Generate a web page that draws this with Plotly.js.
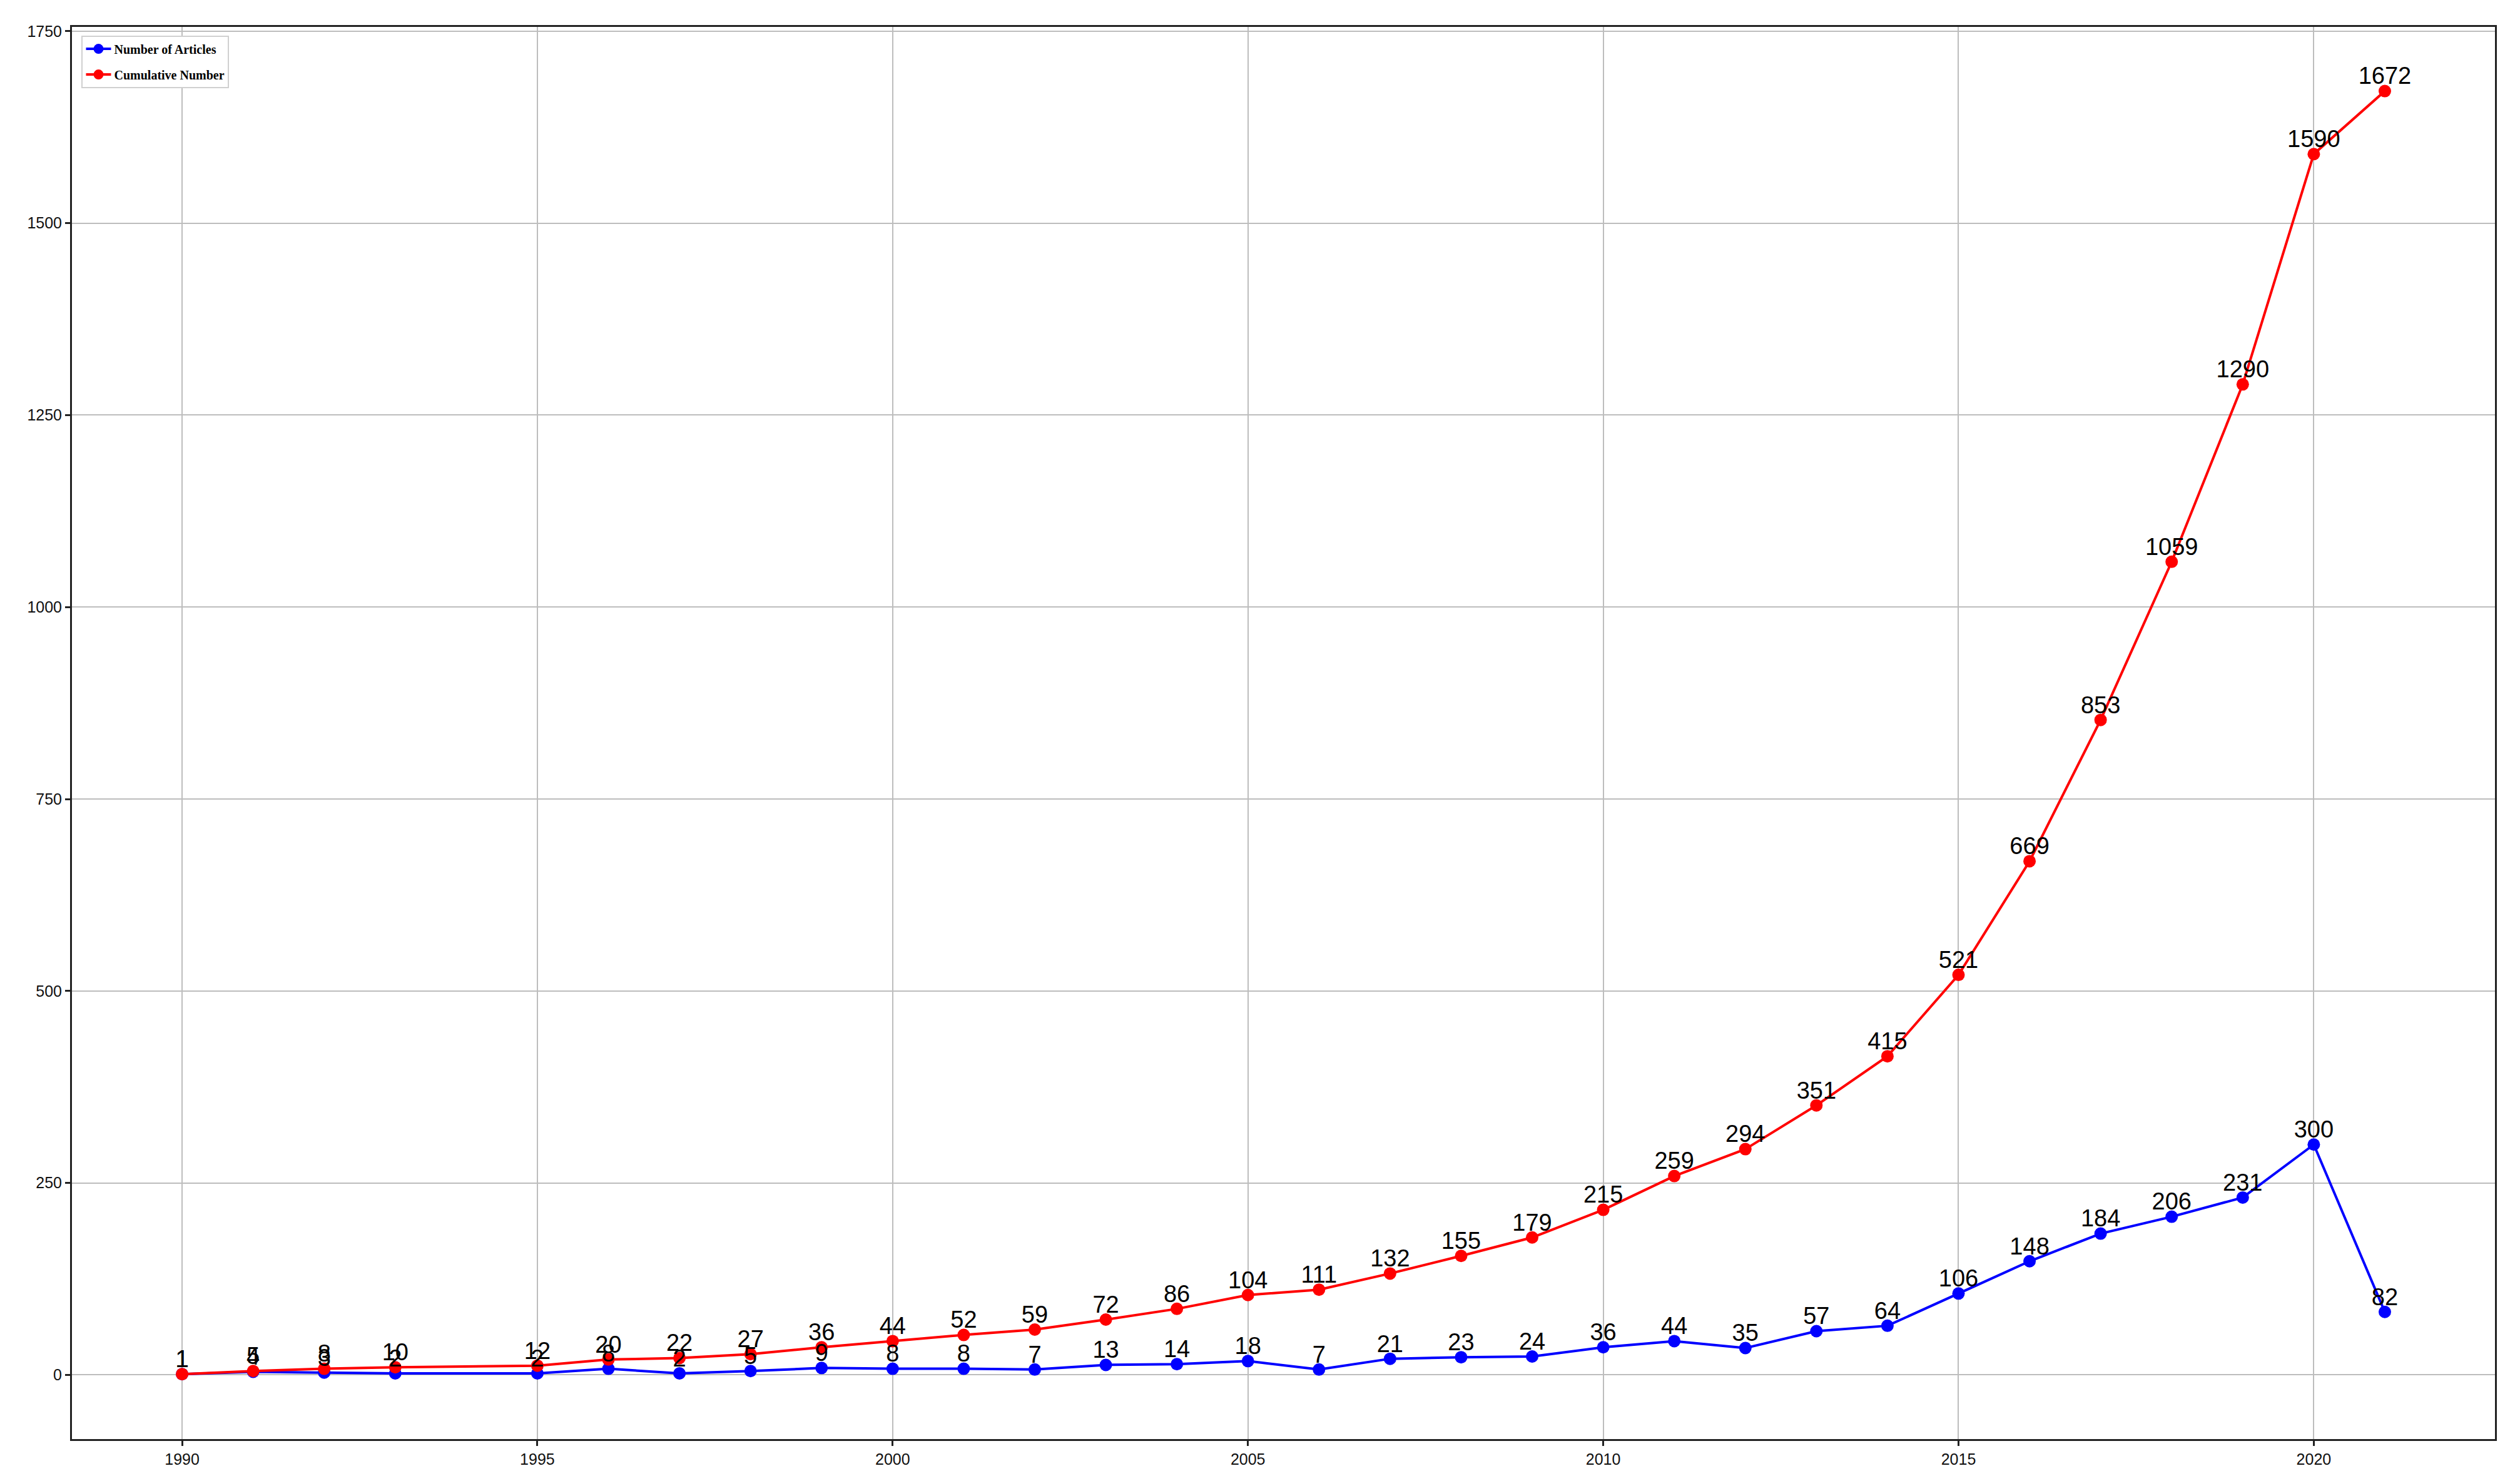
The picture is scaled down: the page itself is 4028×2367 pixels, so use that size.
<!DOCTYPE html>
<html>
<head>
<meta charset="utf-8">
<script src="https://cdn.plot.ly/plotly-3.0.1.min.js"></script>
<style>
  html, body { margin: 0; padding: 0; background: #ffffff; }
  #chart { width: 4028px; height: 2367px; }
</style>
</head>
<body>
<div id="chart"></div>
<script>
// ---- data ----
const years = [1990, 1991, 1992, 1993, 1995, 1996, 1997, 1998, 1999, 2000,
               2001, 2002, 2003, 2004, 2005, 2006, 2007, 2008, 2009, 2010,
               2011, 2012, 2013, 2014, 2015, 2016, 2017, 2018, 2019, 2020, 2021];
const articles = [1, 4, 3, 2, 2, 8, 2, 5, 9, 8,
                  8, 7, 13, 14, 18, 7, 21, 23, 24, 36,
                  44, 35, 57, 64, 106, 148, 184, 206, 231, 300, 82];
const cumulative = [1, 5, 8, 10, 12, 20, 22, 27, 36, 44,
                    52, 59, 72, 86, 104, 111, 132, 155, 179, 215,
                    259, 294, 351, 415, 521, 669, 853, 1059, 1290, 1590, 1672];
const seriesNames = ['Number of Articles', 'Cumulative Number'];
const xTicks = [1990, 1995, 2000, 2005, 2010, 2015, 2020];
const yTicks = [0, 250, 500, 750, 1000, 1250, 1500, 1750];

const labelFont = {family: 'Liberation Sans, Arial, sans-serif', size: 38, color: '#000000'};

const traces = [
  {
    x: years, y: articles, name: seriesNames[0], type: 'scatter', mode: 'lines+markers',
    legendgroup: 'a',
    line: {color: '#0000ff', width: 4},
    marker: {color: '#0000ff', size: 20}
  },
  {
    x: years, y: cumulative, name: seriesNames[1], type: 'scatter', mode: 'lines+markers',
    legendgroup: 'b',
    line: {color: '#ff0000', width: 4},
    marker: {color: '#ff0000', size: 20}
  },
  {
    x: years, y: articles, type: 'scatter', mode: 'markers+text', showlegend: false,
    text: articles.map(String), textposition: 'top center', textfont: labelFont,
    marker: {color: 'rgba(0,0,0,0)', size: 1}, hoverinfo: 'skip'
  },
  {
    x: years, y: cumulative, type: 'scatter', mode: 'markers+text', showlegend: false,
    text: cumulative.map(String), textposition: 'top center', textfont: labelFont,
    marker: {color: 'rgba(0,0,0,0)', size: 1}, hoverinfo: 'skip'
  }
];

const axisCommon = {
  showline: true, mirror: true, linecolor: '#222222', linewidth: 3,
  showgrid: true, gridcolor: '#bdbdbd', gridwidth: 2,
  zeroline: false,
  ticks: 'outside', ticklen: 8, tickwidth: 3, tickcolor: '#222222',
  tickfont: {family: 'Liberation Sans, Arial, sans-serif', size: 25, color: '#111111'}
};

const layout = {
  width: 4028, height: 2367,
  margin: {l: 115, r: 40, t: 43, b: 67, pad: 0},
  paper_bgcolor: '#ffffff', plot_bgcolor: '#ffffff',
  showlegend: true,
  legend: {
    x: 0.004, y: 0.994, xanchor: 'left', yanchor: 'top',
    bgcolor: '#ffffff', bordercolor: '#d0d0d0', borderwidth: 2,
    font: {family: 'Liberation Serif, Times New Roman, serif', size: 20, color: '#000000', weight: 'bold'},
    traceorder: 'grouped', tracegroupgap: 12, itemwidth: 40
  },
  xaxis: Object.assign({}, axisCommon, {
    range: [1988.45, 2022.55], tickmode: 'array', tickvals: xTicks, ticktext: xTicks.map(String)
  }),
  yaxis: Object.assign({}, axisCommon, {
    range: [-83.6, 1755.6], tickmode: 'array', tickvals: yTicks, ticktext: yTicks.map(String)
  })
};

Plotly.newPlot('chart', traces, layout, {displayModeBar: false, staticPlot: true});
</script>
</body>
</html>
